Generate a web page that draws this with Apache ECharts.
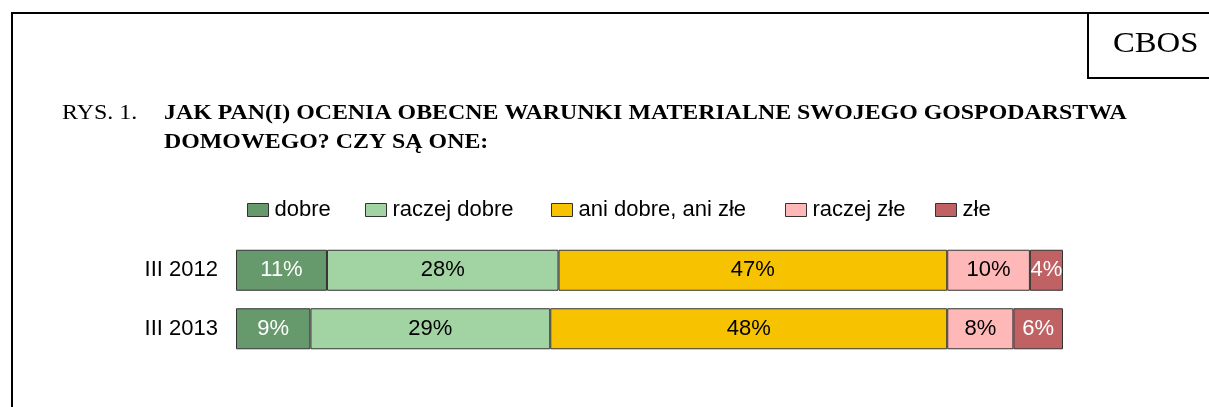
<!DOCTYPE html>
<html>
<head>
<meta charset="utf-8">
<script src="https://cdn.jsdelivr.net/npm/echarts@6/dist/echarts.min.js"></script>
<style>
    html, body { margin: 0; padding: 0; background: #fff; }
    #chart { width: 1209px; height: 407px; }
</style>
</head>
<body>
<div id="chart"></div>
<script>
    // dane z wykresu
    var categories = ['III 2012', 'III 2013'];
    var seriesNames = ['dobre', 'raczej dobre', 'ani dobre, ani złe', 'raczej złe', 'złe'];
    var dobre = [11, 9];
    var raczejDobre = [28, 29];
    var aniDobreAniZle = [47, 48];
    var raczejZle = [10, 8];
    var zle = [4, 6];

    var colors = ['#66996B', '#A2D3A2', '#F7C300', '#FFB8B8', '#C06264'];
    var labelColors = ['#fff', '#000', '#000', '#000', '#fff'];
    var values = [dobre, raczejDobre, aniDobreAniZle, raczejZle, zle];
    // pozycje kolejnych pozycji legendy (jak w oryginale)
    var legendLeft = [247, 365, 551, 785, 935];

    var sans = 'Liberation Sans, Arial, sans-serif';
    var serif = 'Liberation Serif, Times New Roman, serif';

    var series = [];
    var legends = [];
    for (var i = 0; i < seriesNames.length; i++) {
        series.push({
            name: seriesNames[i],
            type: 'bar',
            stack: 'total',
            barWidth: 41,
            data: values[i],
            itemStyle: { color: colors[i], borderColor: '#333', borderWidth: 1 },
            label: {
                show: true,
                position: 'inside',
                formatter: '{c}%',
                color: labelColors[i],
                fontFamily: sans,
                fontSize: 22
            }
        });
        legends.push({
            left: legendLeft[i],
            top: 199,
            padding: 0,
            itemWidth: 21,
            itemHeight: 13,
            icon: 'rect',
            itemStyle: { borderColor: '#333', borderWidth: 1 },
            textStyle: { fontFamily: sans, fontSize: 22, color: '#000', padding: [0, 0, 0, 1] },
            data: [seriesNames[i]]
        });
    }

    var myChart = echarts.init(document.getElementById('chart'));
    var option = {
        animation: false,
        color: colors,
        textStyle: { fontFamily: sans },
        legend: legends,
        grid: {
            left: 236,
            right: 146,
            top: 241,
            bottom: 49
        },
        xAxis: {
            type: 'value',
            min: 0,
            max: 100,
            show: false
        },
        yAxis: {
            type: 'category',
            inverse: true,
            data: categories,
            axisLine: { show: false },
            axisTick: { show: false },
            axisLabel: { color: '#000', fontFamily: sans, fontSize: 22, margin: 18 }
        },
        graphic: [
            // ramka
            { type: 'polyline', shape: { points: [[12, 407], [12, 13], [1209, 13]] },
              style: { stroke: '#000', lineWidth: 2, fill: null } },
            { type: 'polyline', shape: { points: [[1088, 13], [1088, 78], [1209, 78]] },
              style: { stroke: '#000', lineWidth: 2, fill: null } },
            { type: 'text', x: 1113, y: 44, scaleX: 1.09,
              style: { text: 'CBOS', font: '30px ' + serif, fill: '#000', verticalAlign: 'middle' } },
            { type: 'text', x: 62, y: 113, scaleX: 1.09,
              style: { text: 'RYS. 1.', font: '22px ' + serif, fill: '#000', verticalAlign: 'middle' } },
            { type: 'text', x: 164, y: 113, scaleX: 1.085,
              style: { text: 'JAK PAN(I) OCENIA OBECNE WARUNKI MATERIALNE SWOJEGO GOSPODARSTWA',
                       font: 'bold 22px ' + serif, fill: '#000', verticalAlign: 'middle' } },
            { type: 'text', x: 164, y: 142, scaleX: 1.085,
              style: { text: 'DOMOWEGO? CZY SĄ ONE:', font: 'bold 22px ' + serif, fill: '#000', verticalAlign: 'middle' } }
        ],
        series: series
    };
    myChart.setOption(option);
</script>
</body>
</html>
